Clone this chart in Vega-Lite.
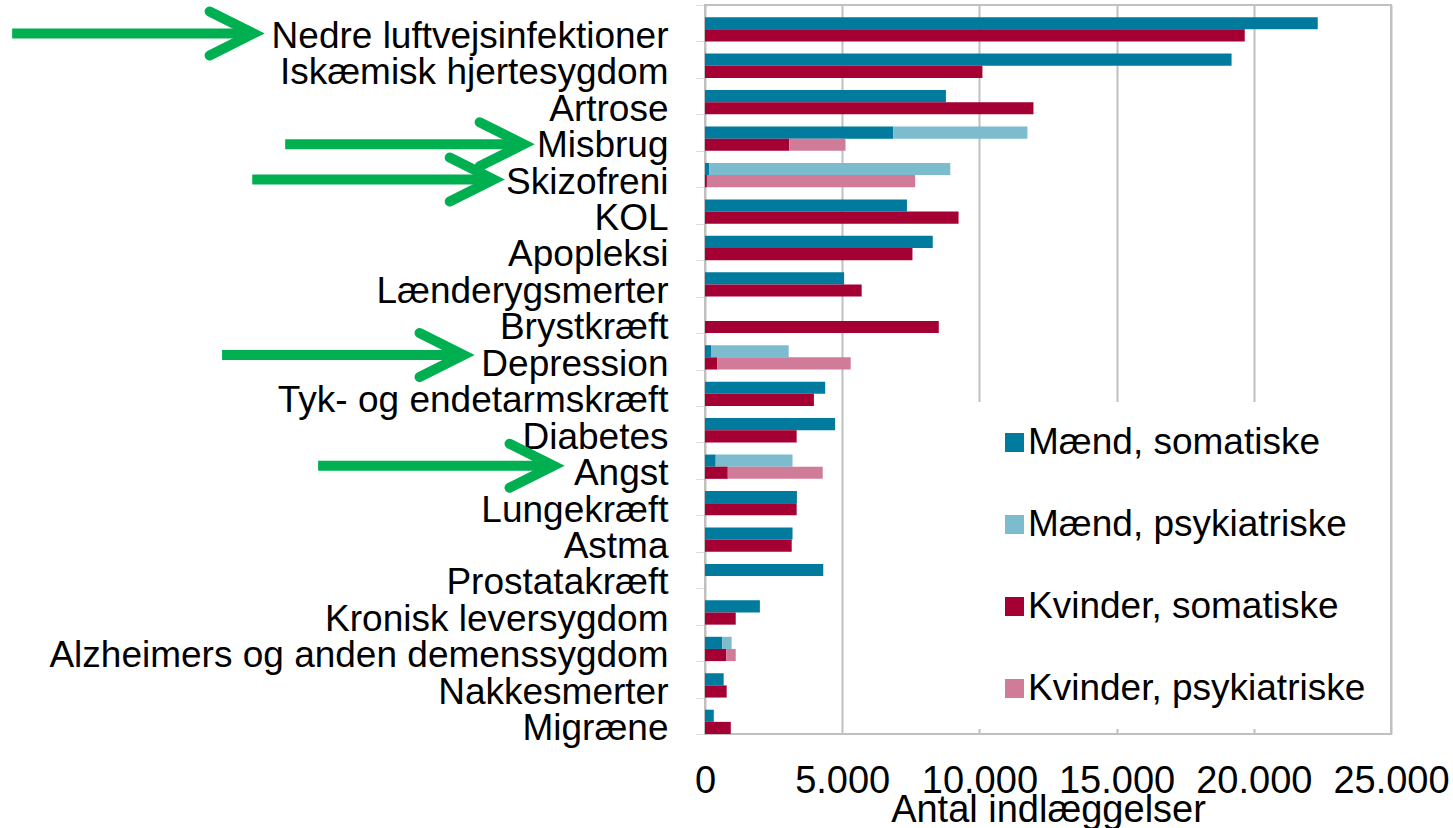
{
  "$schema": "https://vega.github.io/schema/vega-lite/v6.json",
  "width": 686,
  "height": 729,
  "autosize": {"type": "none"},
  "padding": {"left": 705, "top": 5, "right": 62, "bottom": 94},
  "config": {
    "font": "Liberation Sans",
    "view": {"stroke": "#C0C0C0", "strokeWidth": 2}
  },
  "datasets": {
    "bars": [
      {"sygdom": "Nedre luftvejsinfektioner", "køn": "Mænd", "type": "somatiske", "serie": "Mænd, somatiske", "antal": 22330},
      {"sygdom": "Nedre luftvejsinfektioner", "køn": "Kvinder", "type": "somatiske", "serie": "Kvinder, somatiske", "antal": 19670},
      {"sygdom": "Iskæmisk hjertesygdom", "køn": "Mænd", "type": "somatiske", "serie": "Mænd, somatiske", "antal": 19190},
      {"sygdom": "Iskæmisk hjertesygdom", "køn": "Kvinder", "type": "somatiske", "serie": "Kvinder, somatiske", "antal": 10110},
      {"sygdom": "Artrose", "køn": "Mænd", "type": "somatiske", "serie": "Mænd, somatiske", "antal": 8780},
      {"sygdom": "Artrose", "køn": "Kvinder", "type": "somatiske", "serie": "Kvinder, somatiske", "antal": 11970},
      {"sygdom": "Misbrug", "køn": "Mænd", "type": "somatiske", "serie": "Mænd, somatiske", "antal": 6860},
      {"sygdom": "Misbrug", "køn": "Mænd", "type": "psykiatriske", "serie": "Mænd, psykiatriske", "antal": 4890},
      {"sygdom": "Misbrug", "køn": "Kvinder", "type": "somatiske", "serie": "Kvinder, somatiske", "antal": 3070},
      {"sygdom": "Misbrug", "køn": "Kvinder", "type": "psykiatriske", "serie": "Kvinder, psykiatriske", "antal": 2050},
      {"sygdom": "Skizofreni", "køn": "Mænd", "type": "somatiske", "serie": "Mænd, somatiske", "antal": 150},
      {"sygdom": "Skizofreni", "køn": "Mænd", "type": "psykiatriske", "serie": "Mænd, psykiatriske", "antal": 8790},
      {"sygdom": "Skizofreni", "køn": "Kvinder", "type": "somatiske", "serie": "Kvinder, somatiske", "antal": 70},
      {"sygdom": "Skizofreni", "køn": "Kvinder", "type": "psykiatriske", "serie": "Kvinder, psykiatriske", "antal": 7590},
      {"sygdom": "KOL", "køn": "Mænd", "type": "somatiske", "serie": "Mænd, somatiske", "antal": 7360},
      {"sygdom": "KOL", "køn": "Kvinder", "type": "somatiske", "serie": "Kvinder, somatiske", "antal": 9240},
      {"sygdom": "Apopleksi", "køn": "Mænd", "type": "somatiske", "serie": "Mænd, somatiske", "antal": 8300},
      {"sygdom": "Apopleksi", "køn": "Kvinder", "type": "somatiske", "serie": "Kvinder, somatiske", "antal": 7560},
      {"sygdom": "Lænderygsmerter", "køn": "Mænd", "type": "somatiske", "serie": "Mænd, somatiske", "antal": 5070},
      {"sygdom": "Lænderygsmerter", "køn": "Kvinder", "type": "somatiske", "serie": "Kvinder, somatiske", "antal": 5710},
      {"sygdom": "Brystkræft", "køn": "Kvinder", "type": "somatiske", "serie": "Kvinder, somatiske", "antal": 8520},
      {"sygdom": "Depression", "køn": "Mænd", "type": "somatiske", "serie": "Mænd, somatiske", "antal": 220},
      {"sygdom": "Depression", "køn": "Mænd", "type": "psykiatriske", "serie": "Mænd, psykiatriske", "antal": 2830},
      {"sygdom": "Depression", "køn": "Kvinder", "type": "somatiske", "serie": "Kvinder, somatiske", "antal": 450},
      {"sygdom": "Depression", "køn": "Kvinder", "type": "psykiatriske", "serie": "Kvinder, psykiatriske", "antal": 4860},
      {"sygdom": "Tyk- og endetarmskræft", "køn": "Mænd", "type": "somatiske", "serie": "Mænd, somatiske", "antal": 4380},
      {"sygdom": "Tyk- og endetarmskræft", "køn": "Kvinder", "type": "somatiske", "serie": "Kvinder, somatiske", "antal": 3970},
      {"sygdom": "Diabetes", "køn": "Mænd", "type": "somatiske", "serie": "Mænd, somatiske", "antal": 4740},
      {"sygdom": "Diabetes", "køn": "Kvinder", "type": "somatiske", "serie": "Kvinder, somatiske", "antal": 3340},
      {"sygdom": "Angst\u00a0", "køn": "Mænd", "type": "somatiske", "serie": "Mænd, somatiske", "antal": 390},
      {"sygdom": "Angst\u00a0", "køn": "Mænd", "type": "psykiatriske", "serie": "Mænd, psykiatriske", "antal": 2800},
      {"sygdom": "Angst\u00a0", "køn": "Kvinder", "type": "somatiske", "serie": "Kvinder, somatiske", "antal": 830},
      {"sygdom": "Angst\u00a0", "køn": "Kvinder", "type": "psykiatriske", "serie": "Kvinder, psykiatriske", "antal": 3460},
      {"sygdom": "Lungekræft", "køn": "Mænd", "type": "somatiske", "serie": "Mænd, somatiske", "antal": 3350},
      {"sygdom": "Lungekræft", "køn": "Kvinder", "type": "somatiske", "serie": "Kvinder, somatiske", "antal": 3340},
      {"sygdom": "Astma", "køn": "Mænd", "type": "somatiske", "serie": "Mænd, somatiske", "antal": 3190},
      {"sygdom": "Astma", "køn": "Kvinder", "type": "somatiske", "serie": "Kvinder, somatiske", "antal": 3160},
      {"sygdom": "Prostatakræft", "køn": "Mænd", "type": "somatiske", "serie": "Mænd, somatiske", "antal": 4310},
      {"sygdom": "Kronisk leversygdom", "køn": "Mænd", "type": "somatiske", "serie": "Mænd, somatiske", "antal": 2000},
      {"sygdom": "Kronisk leversygdom", "køn": "Kvinder", "type": "somatiske", "serie": "Kvinder, somatiske", "antal": 1120},
      {"sygdom": "Alzheimers og anden demenssygdom", "køn": "Mænd", "type": "somatiske", "serie": "Mænd, somatiske", "antal": 630},
      {"sygdom": "Alzheimers og anden demenssygdom", "køn": "Mænd", "type": "psykiatriske", "serie": "Mænd, psykiatriske", "antal": 340},
      {"sygdom": "Alzheimers og anden demenssygdom", "køn": "Kvinder", "type": "somatiske", "serie": "Kvinder, somatiske", "antal": 770},
      {"sygdom": "Alzheimers og anden demenssygdom", "køn": "Kvinder", "type": "psykiatriske", "serie": "Kvinder, psykiatriske", "antal": 350},
      {"sygdom": "Nakkesmerter", "køn": "Mænd", "type": "somatiske", "serie": "Mænd, somatiske", "antal": 680},
      {"sygdom": "Nakkesmerter", "køn": "Kvinder", "type": "somatiske", "serie": "Kvinder, somatiske", "antal": 790},
      {"sygdom": "Migræne", "køn": "Mænd", "type": "somatiske", "serie": "Mænd, somatiske", "antal": 320},
      {"sygdom": "Migræne", "køn": "Kvinder", "type": "somatiske", "serie": "Kvinder, somatiske", "antal": 940}
    ],
    "arrows": [
      {"sygdom": "Nedre luftvejsinfektioner", "fra": -25250, "til": -16650, "spids": -16450, "pos": 0.78},
      {"sygdom": "Misbrug", "fra": -15300, "til": -6810, "spids": -6610, "pos": 0.82},
      {"sygdom": "Skizofreni", "fra": -16500, "til": -7900, "spids": -7700, "pos": 0.79},
      {"sygdom": "Depression", "fra": -17600, "til": -9000, "spids": -8800, "pos": 0.6},
      {"sygdom": "Angst\u00a0", "fra": -14100, "til": -5720, "spids": -5520, "pos": 0.64}
    ]
  },
  "layer": [
    {
      "data": {"name": "bars"},
      "mark": {"type": "bar"},
      "encoding": {
        "y": {
          "field": "sygdom", "type": "nominal", "sort": null,
          "scale": {
            "domain": ["Nedre luftvejsinfektioner", "Iskæmisk hjertesygdom", "Artrose", "Misbrug", "Skizofreni", "KOL", "Apopleksi", "Lænderygsmerter", "Brystkræft", "Depression", "Tyk- og endetarmskræft", "Diabetes", "Angst\u00a0", "Lungekræft", "Astma", "Prostatakræft", "Kronisk leversygdom", "Alzheimers og anden demenssygdom", "Nakkesmerter", "Migræne"],
            "paddingInner": 0, "paddingOuter": 0
          },
          "axis": {
            "title": null, "labelFontSize": 37, "labelColor": "black", "labelPadding": 27,
            "labelOffset": 13, "labelLimit": 1000, "domain": false, "ticks": true,
            "tickBand": "extent", "tickSize": 10, "tickColor": "#BBBBBB", "tickDash": [1, 1],
            "tickWidth": 1, "grid": false
          }
        },
        "yOffset": {
          "field": "køn", "type": "nominal",
          "scale": {"domain": ["", "Mænd", "Kvinder"], "paddingInner": 0, "paddingOuter": 0}
        },
        "x": {
          "field": "antal", "type": "quantitative", "stack": "zero",
          "scale": {"domain": [0, 25000], "nice": false},
          "axis": {
            "title": "Antal indlæggelser", "titleFontSize": 38, "titleFontWeight": "normal",
            "titleColor": "black", "titlePadding": -9, "labelFontSize": 38, "labelColor": "black",
            "labelPadding": 28, "ticks": false, "domain": false, "grid": true,
            "gridColor": "#C0C0C0", "gridWidth": 2,
            "values": [0, 5000, 10000, 15000, 20000, 25000],
            "labelExpr": "replace(format(datum.value, ','), ',', '.')",
            "labelFlush": false, "labelOverlap": false
          }
        },
        "color": {
          "field": "serie", "type": "nominal",
          "scale": {
            "domain": ["Mænd, somatiske", "Mænd, psykiatriske", "Kvinder, somatiske", "Kvinder, psykiatriske"],
            "range": ["#007B9E", "#7DBBCE", "#A50034", "#D07C98"]
          },
          "legend": {
            "title": null, "orient": "none", "legendX": 269, "legendY": 397,
            "direction": "vertical", "symbolType": "square", "symbolSize": 361,
            "symbolStrokeWidth": 0, "symbolOpacity": 1, "labelFontSize": 37, "labelColor": "black",
            "labelLimit": 500, "rowPadding": 44, "labelOffset": -5, "padding": 22,
            "fillColor": "white"
          }
        },
        "order": {"field": "type", "sort": "descending"}
      }
    },
    {
      "data": {"name": "arrows"},
      "mark": {"type": "rule", "color": "#00B050", "strokeWidth": 10, "strokeCap": "butt"},
      "encoding": {
        "y": {"field": "sygdom", "type": "nominal", "sort": null},
        "yOffset": {"field": "pos", "type": "quantitative", "scale": {"domain": [0, 1], "range": [0, 36.45]}},
        "x": {"field": "fra", "type": "quantitative"},
        "x2": {"field": "til"}
      }
    },
    {
      "data": {"name": "arrows"},
      "mark": {"type": "point", "shape": "M-2,-1L0,0L-2,1", "filled": false, "stroke": "#00B050", "strokeWidth": 10, "size": 1936, "strokeCap": "round", "strokeJoin": "miter", "strokeMiterLimit": 10, "opacity": 1},
      "encoding": {
        "y": {"field": "sygdom", "type": "nominal", "sort": null},
        "yOffset": {"field": "pos", "type": "quantitative", "scale": {"domain": [0, 1], "range": [0, 36.45]}},
        "x": {"field": "spids", "type": "quantitative"}
      }
    }
  ],
  "resolve": {"scale": {"yOffset": "independent"}}
}
